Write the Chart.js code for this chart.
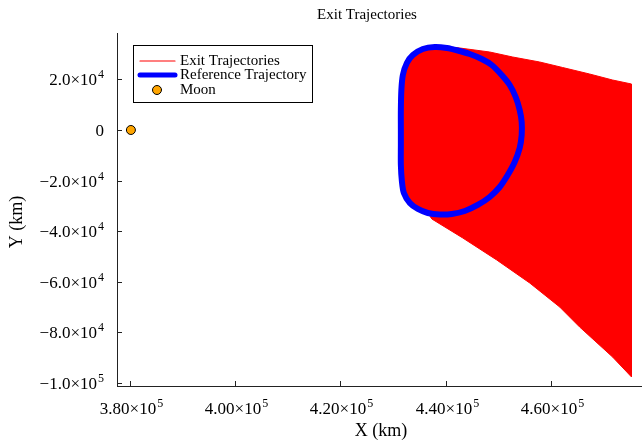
<!DOCTYPE html>
<html>
<head>
<meta charset="utf-8">
<script src="https://cdn.jsdelivr.net/npm/chart.js@4"></script>
<style>
  html, body { margin: 0; padding: 0; background: #fff; }
</style>
</head>
<body>
<canvas id="chart" width="642" height="443"></canvas>
<script>
// Moon position (km)
const moonX = [380250];
const moonY = [0];

// Reference trajectory (closed orbit)
const refX = [431498, 431498, 431593, 431877, 432635, 433773, 435668, 437942, 440217, 442302,
  444576, 446852, 448746, 450641, 452158, 453295, 454053, 454432, 454432, 454053,
  453106, 451779, 450263, 448367, 446093, 443629, 441165, 438890, 436616, 434720,
  433204, 432067, 431688, 431498, 431498, 431498];
const refY = [0, 7900, 15800, 21740, 26480, 29640, 32010, 32800, 32410, 31420,
  30030, 28060, 25690, 21740, 17790, 13040, 7900, 3160, -1980, -7120,
  -12650, -17790, -22530, -26480, -29640, -32010, -33200, -33400, -32800, -31220,
  -28850, -24900, -20150, -13840, -5930, 0];

// Outline of the bundle of exit trajectories
const exitX = [475280, 471680, 467320, 462200, 457840, 452720, 448360, 442670, 439830,
  437942, 435668, 433773, 432635, 431877, 431593, 431498, 431498, 431498, 431498,
  431688, 432067, 433204, 434720, 436616,
  437370, 443250, 449690, 455950, 461640, 465430, 471680, 475280, 475280];
const exitY = [18180, 19760, 22130, 24700, 26880, 28850, 30830, 32410, 33000,
  32800, 32010, 29640, 26480, 21740, 15800, 7900, 0, -5930, -13840,
  -20150, -24900, -28850, -31220, -32800,
  -35170, -42680, -51370, -60460, -69940, -77850, -89700, -97610, 18180];

// Axis ticks
const xTicks = [380000, 400000, 420000, 440000, 460000];
const xTickLabels = [['3.80×10', '5'], ['4.00×10', '5'], ['4.20×10', '5'], ['4.40×10', '5'], ['4.60×10', '5']];
const yTicks = [20000, 0, -20000, -40000, -60000, -80000, -100000];
const yTickLabels = [['2.0×10', '4'], ['0', ''], ['−2.0×10', '4'], ['−4.0×10', '4'],
  ['−6.0×10', '4'], ['−8.0×10', '4'], ['−1.0×10', '5']];

const toPoints = (xs, ys) => xs.map((x, i) => ({ x: x, y: ys[i] }));
const serif = '"Liberation Serif", "DejaVu Serif", serif';

// tick label with a raised exponent
function drawPower(ctx, parts, x, y, align) {
  ctx.font = '17px ' + serif;
  const wBase = ctx.measureText(parts[0]).width;
  ctx.font = '12px ' + serif;
  const wExp = parts[1] ? ctx.measureText(parts[1]).width + 1 : 0;
  const w = wBase + wExp;
  let left = align === 'right' ? x - w : x - w / 2;
  ctx.textAlign = 'left';
  ctx.textBaseline = 'alphabetic';
  ctx.font = '17px ' + serif;
  ctx.fillText(parts[0], left, y);
  if (parts[1]) {
    ctx.font = '12px ' + serif;
    ctx.fillText(parts[1], left + wBase + 1, y - 7);
  }
}

const decorations = {
  id: 'decorations',
  afterDraw(chart) {
    const ctx = chart.ctx;
    const a = chart.chartArea;
    const xs = chart.scales.x, ys = chart.scales.y;
    ctx.save();
    ctx.strokeStyle = '#222';
    ctx.lineWidth = 1;
    ctx.fillStyle = '#000';
    // bottom axis runs to the edge of the figure
    ctx.beginPath(); ctx.moveTo(a.right, a.bottom + 0.5); ctx.lineTo(chart.width, a.bottom + 0.5); ctx.stroke();
    xs.ticks.forEach((t, i) => {
      const px = Math.round(xs.getPixelForValue(t.value)) + 0.5;
      ctx.beginPath(); ctx.moveTo(px, a.bottom); ctx.lineTo(px, a.bottom - 5); ctx.stroke();
      drawPower(ctx, xTickLabels[i], px + 1, a.bottom + 28, 'center');
    });
    ys.ticks.forEach((t, i) => {
      const py = Math.round(ys.getPixelForValue(t.value)) + 0.5;
      ctx.beginPath(); ctx.moveTo(a.left, py); ctx.lineTo(a.left + 5, py); ctx.stroke();
      drawPower(ctx, yTickLabels[i], a.left - 13, py + 5.5, 'right');
    });

    ctx.textAlign = 'center';
    ctx.textBaseline = 'middle';
    ctx.font = '15px ' + serif;
    ctx.fillText('Exit Trajectories', 367, 15);
    ctx.font = '18px ' + serif;
    ctx.fillText('X (km)', 381, 431);
    ctx.save();
    ctx.translate(17, 222);
    ctx.rotate(-Math.PI / 2);
    ctx.fillText('Y (km)', 0, 0);
    ctx.restore();

    // legend
    ctx.fillStyle = '#fff';
    ctx.fillRect(133.5, 45.5, 179, 57);
    ctx.strokeStyle = '#000';
    ctx.strokeRect(133.5, 45.5, 179, 57);
    ctx.font = '15px ' + serif;
    ctx.textAlign = 'left';
    const rows = [61, 75, 90];
    chart.data.datasets.filter(d => d.legendWidth !== undefined).forEach((d, i) => {
      const ry = rows[i];
      if (d.showLine) {
        ctx.strokeStyle = d.borderColor;
        ctx.lineWidth = d.legendWidth;
        ctx.lineCap = 'round';
        ctx.beginPath(); ctx.moveTo(140, ry); ctx.lineTo(175, ry); ctx.stroke();
      } else {
        ctx.fillStyle = d.backgroundColor;
        ctx.strokeStyle = d.borderColor;
        ctx.lineWidth = 1;
        ctx.beginPath(); ctx.arc(157, ry, 4.5, 0, Math.PI * 2); ctx.fill(); ctx.stroke();
      }
      ctx.fillStyle = '#000';
      ctx.fillText(d.label, 180, ry);
    });
    ctx.restore();
  }
};

new Chart(document.getElementById('chart').getContext('2d'), {
  type: 'scatter',
  data: {
    datasets: [
      {
        label: 'Exit Trajectories',
        data: toPoints(exitX, exitY),
        showLine: true,
        fill: 'shape',
        borderColor: '#ff0000',
        backgroundColor: '#ff0000',
        borderWidth: 1,
        pointRadius: 0,
        legendWidth: 1.2,
        order: 3
      },
      {
        label: 'Reference Trajectory',
        data: toPoints(refX, refY),
        showLine: true,
        borderColor: '#0000ff',
        borderWidth: 6,
        tension: 0.3,
        pointRadius: 0,
        legendWidth: 5,
        order: 2
      },
      {
        label: 'Moon',
        data: toPoints(moonX, moonY),
        backgroundColor: '#ffa500',
        borderColor: '#000',
        borderWidth: 1,
        pointRadius: 4.5,
        legendWidth: 0,
        order: 1
      }
    ]
  },
  options: {
    responsive: false,
    animation: false,
    layout: { padding: { top: 33, right: 0, bottom: 0, left: 0 } },
    plugins: { legend: { display: false }, tooltip: { enabled: false }, title: { display: false } },
    scales: {
      x: {
        type: 'linear',
        min: 377612,
        max: 476228,
        afterBuildTicks: s => { s.ticks = xTicks.map(v => ({ value: v })); },
        afterFit: s => { s.height = 57; },
        ticks: { display: false },
        grid: { drawOnChartArea: false, drawTicks: false },
        border: { display: true, color: '#222' }
      },
      y: {
        type: 'linear',
        min: -101186,
        max: 38340,
        afterBuildTicks: s => { s.ticks = yTicks.map(v => ({ value: v })); },
        afterFit: s => { s.width = 117; },
        ticks: { display: false },
        grid: { drawOnChartArea: false, drawTicks: false },
        border: { display: true, color: '#222' }
      }
    }
  },
  plugins: [decorations]
});
</script>
</body>
</html>
